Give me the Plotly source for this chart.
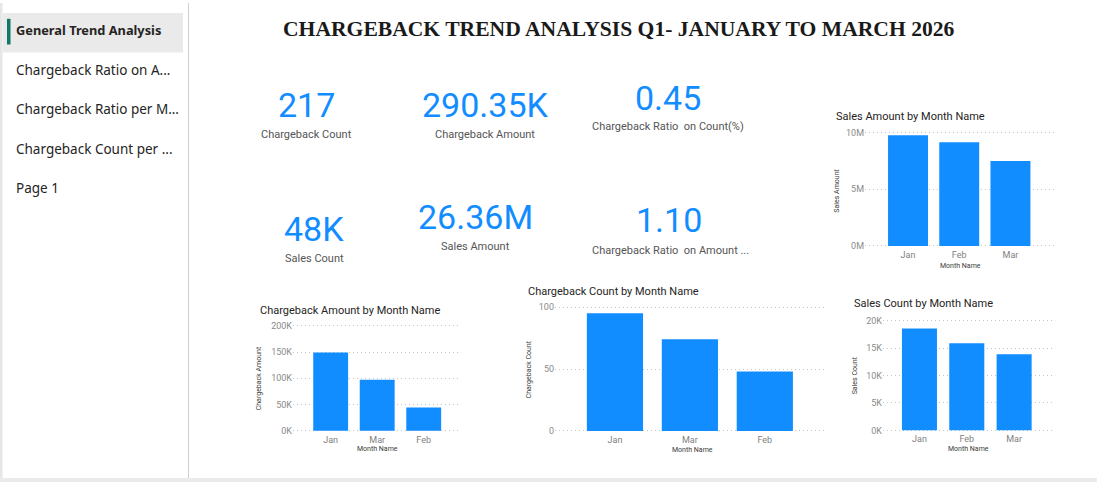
import plotly.graph_objects as go

W, H = 1097, 485

# ---------------- data ----------------
page_names = ["General Trend Analysis", "Chargeback Ratio on A...", "Chargeback Ratio per M...",
              "Chargeback Count per ...", "Page 1"]

report_title = "CHARGEBACK TREND ANALYSIS Q1- JANUARY TO MARCH 2026"

kpi_values = ["217", "290.35K", "0.45", "48K", "26.36M", "1.10"]
kpi_labels = ["Chargeback Count", "Chargeback Amount", "Chargeback Ratio  on Count(%)",
              "Sales Count", "Sales Amount", "Chargeback Ratio  on Amount ..."]

sa_months = ["Jan", "Feb", "Mar"]
sales_amount = [9.74e6, 9.14e6, 7.48e6]
sa_ticks = [0, 5e6, 10e6]
sa_ticktext = ["0M", "5M", "10M"]

ca_months = ["Jan", "Mar", "Feb"]
cb_amount = [149200, 97000, 44150]
ca_ticks = [0, 50000, 100000, 150000, 200000]
ca_ticktext = ["0K", "50K", "100K", "150K", "200K"]

cc_months = ["Jan", "Mar", "Feb"]
cb_count = [95, 74, 48]
cc_ticks = [0, 50, 100]
cc_ticktext = ["0", "50", "100"]

sc_months = ["Jan", "Feb", "Mar"]
sales_count = [18600, 15900, 13900]
sc_ticks = [0, 5000, 10000, 15000, 20000]
sc_ticktext = ["0K", "5K", "10K", "15K", "20K"]

BAR = "#118DFF"
CHART_FONT = "Roboto"


def fx(x):
    return x / W


def fy(y):
    return 1 - y / H


fig = go.Figure()
layout = dict(
    width=W, height=H, margin=dict(l=0, r=0, t=0, b=0),
    paper_bgcolor="white", plot_bgcolor="white", showlegend=False,
    font=dict(family=CHART_FONT),
)

charts = [
    dict(m=sa_months, v=sales_amount, tv=sa_ticks, tt=sa_ticktext, xp=(865, 1055), yp=(246, 131),
         xr=(-0.84, 2.87), ymax=1e7, bw=0.78, title="Sales Amount by Month Name", tpos=(834, 115),
         ytitle="Sales Amount", ytpos=(837, 190), xtpos=(960, 266)),
    dict(m=ca_months, v=cb_amount, tv=ca_ticks, tt=ca_ticktext, xp=(293, 460), yp=(433, 327),
         xr=(-0.81, 2.78), ymax=200000, bw=0.75, title="Chargeback Amount by Month Name", tpos=(258, 311),
         ytitle="Chargeback Amount", ytpos=(259, 380), xtpos=(377, 452)),
    dict(m=cc_months, v=cb_count, tv=cc_ticks, tt=cc_ticktext, xp=(555, 827), yp=(433.3, 308),
         xr=(-0.8, 2.83), ymax=100, bw=0.75, title="Chargeback Count by Month Name", tpos=(526, 292),
         ytitle="Chargeback Count", ytpos=(529, 371), xtpos=(692, 453)),
    dict(m=sc_months, v=sales_count, tv=sc_ticks, tt=sc_ticktext, xp=(883, 1052), yp=(432.7, 321.7),
         xr=(-0.77, 2.8), ymax=20000, bw=0.74, title="Sales Count by Month Name", tpos=(852, 304),
         ytitle="Sales Count", ytpos=(855, 377), xtpos=(968, 452)),
]

annotations = []
shapes = []
PAD = 2.0  # px of padding so edge gridlines get drawn

for i, c in enumerate(charts):
    n = "" if i == 0 else str(i + 1)
    bot, top = c["yp"]
    per_px = c["ymax"] / (bot - top)
    fig.add_trace(go.Bar(x=c["m"], y=c["v"], marker=dict(color=BAR, line=dict(width=0)),
                         width=c["bw"], xaxis="x" + n, yaxis="y" + n, hoverinfo="x+y"))
    layout["xaxis" + n] = dict(
        domain=[fx(c["xp"][0]), fx(c["xp"][1])], anchor="y" + n, type="category",
        range=list(c["xr"]), showgrid=False, showline=False, zeroline=False, ticks="",
        tickfont=dict(size=9, color="#808080", family=CHART_FONT), fixedrange=True,
    )
    layout["yaxis" + n] = dict(
        domain=[fy(bot + PAD), fy(top - PAD)], anchor="x" + n,
        range=[-PAD * per_px, c["ymax"] + PAD * per_px],
        tickvals=c["tv"], ticktext=c["tt"], showgrid=True, gridcolor="#c4c4c4", griddash="1px,3px",
        gridwidth=1, zeroline=False, showline=False, ticks="",
        tickfont=dict(size=9, color="#8a8a8a", family=CHART_FONT), fixedrange=True,
    )
    annotations.append(dict(text=c["title"], x=fx(c["tpos"][0]), y=fy(c["tpos"][1]), xref="paper", yref="paper",
                            xanchor="left", yanchor="middle", showarrow=False,
                            font=dict(size=11, color="#252423", family=CHART_FONT)))
    annotations.append(dict(text=c["ytitle"], x=fx(c["ytpos"][0]), y=fy(c["ytpos"][1]), xref="paper", yref="paper",
                            xanchor="center", yanchor="middle", textangle=-90, showarrow=False,
                            font=dict(size=7, color="#3a3a3a", family=CHART_FONT)))
    annotations.append(dict(text="Month Name", x=fx(c["xtpos"][0]), y=fy(c["xtpos"][1]), xref="paper", yref="paper",
                            xanchor="center", yanchor="middle", showarrow=False,
                            font=dict(size=7, color="#3a3a3a", family=CHART_FONT)))

# KPI cards
kpi_val_pos = [(306, 103), (485, 103), (668, 96), (314, 229), (475, 217), (669, 220)]
kpi_lab_pos = [(306, 133), (485, 133), (668, 125), (314, 259), (475, 247), (670, 251)]
for v, l, vp, lp in zip(kpi_values, kpi_labels, kpi_val_pos, kpi_lab_pos):
    annotations.append(dict(text=v, x=fx(vp[0]), y=fy(vp[1]), xref="paper", yref="paper",
                            xanchor="center", yanchor="middle", showarrow=False,
                            font=dict(size=34, color=BAR, family=CHART_FONT)))
    annotations.append(dict(text=l, x=fx(lp[0]), y=fy(lp[1]), xref="paper", yref="paper",
                            xanchor="center", yanchor="middle", showarrow=False,
                            font=dict(size=11, color="#555555", family=CHART_FONT)))

# report title
annotations.append(dict(text="<b>" + report_title + "</b>", x=fx(618.5), y=fy(26.5), xref="paper", yref="paper",
                        xanchor="center", yanchor="middle", showarrow=False,
                        font=dict(size=21.6, color="#1a1a1a", family="Liberation Serif")))

# sidebar
shapes.append(dict(type="rect", xref="paper", yref="paper", x0=fx(3), x1=fx(183), y0=fy(50), y1=fy(10),
                   fillcolor="#eaeaea", line=dict(width=0), layer="below"))
shapes.append(dict(type="rect", xref="paper", yref="paper", x0=fx(7), x1=fx(10.5), y0=fy(42), y1=fy(16),
                   fillcolor="#117865", line=dict(width=0)))
shapes.append(dict(type="line", xref="paper", yref="paper", x0=fx(188.5), x1=fx(188.5), y0=fy(481), y1=1,
                   line=dict(color="#cfcfcf", width=1)))
shapes.append(dict(type="rect", xref="paper", yref="paper", x0=0, x1=fx(2.5), y0=fy(481), y1=1,
                   fillcolor="#e6e6e6", line=dict(width=0)))
shapes.append(dict(type="rect", xref="paper", yref="paper", x0=0, x1=1, y0=0, y1=fy(481),
                   fillcolor="#ebebeb", line=dict(width=0)))

for k, name in enumerate(page_names):
    txt = "<b>" + name + "</b>" if k == 0 else name
    annotations.append(dict(text=txt, x=fx(13.5), y=fy(27.5 + 40 * k), xref="paper", yref="paper",
                            xanchor="left", yanchor="middle", showarrow=False,
                            font=dict(size=12.8 if k == 0 else 13.5, color="#252423", family="Noto Sans")))

layout["annotations"] = annotations
layout["shapes"] = shapes
fig.update_layout(**layout)
fig.write_html("out.html")
